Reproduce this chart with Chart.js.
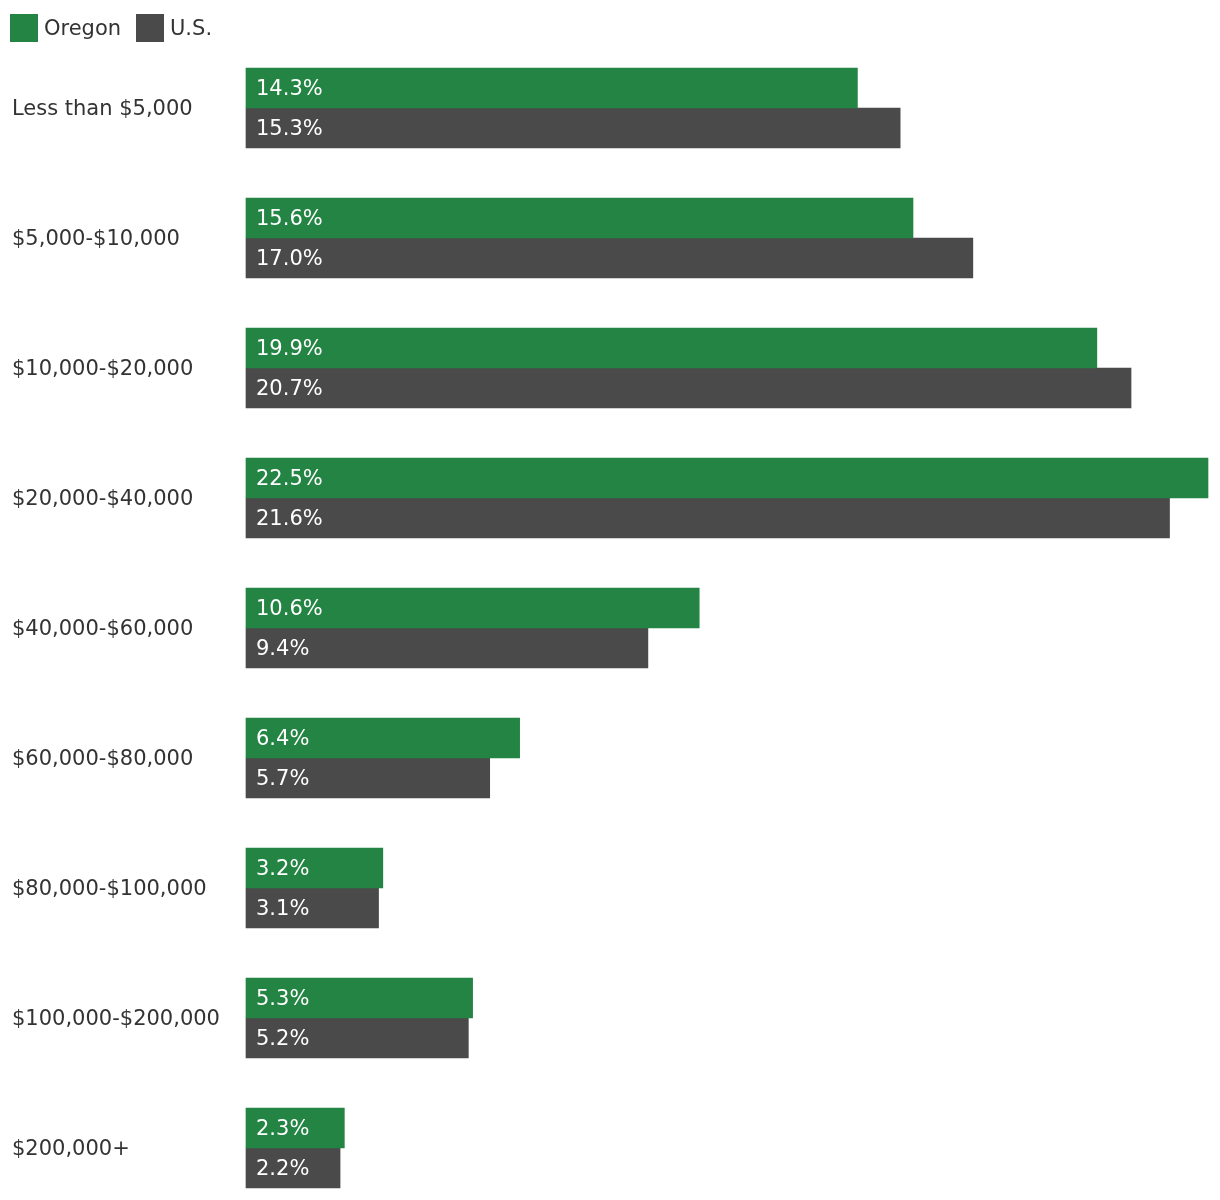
<!DOCTYPE html>
<html>
<head>
<meta charset="utf-8">
<script src="https://cdn.jsdelivr.net/npm/chart.js@4"></script>
<style>
  html, body { margin: 0; padding: 0; background: #fff; }
  #wrap { position: relative; width: 1220px; height: 1200px; }
  .sw { position: absolute; top: 14px; width: 28px; height: 28px; }
  .lt { position: absolute; top: 14px; height: 28px; line-height: 28px; font-family: "DejaVu Sans", sans-serif; font-size: 21px; color: #333; white-space: nowrap; }
  canvas { position: absolute; left: 0; top: 0; }
</style>
</head>
<body>
<div id="wrap">
  <canvas id="c" width="1220" height="1200"></canvas>
  <div id="legend"></div>
</div>
<script>
const categories = ["Less than $5,000", "$5,000-$10,000", "$10,000-$20,000", "$20,000-$40,000", "$40,000-$60,000", "$60,000-$80,000", "$80,000-$100,000", "$100,000-$200,000", "$200,000+"];
const oregon = [14.3, 15.6, 19.9, 22.5, 10.6, 6.4, 3.2, 5.3, 2.3];
const us = [15.3, 17.0, 20.7, 21.6, 9.4, 5.7, 3.1, 5.2, 2.2];
const seriesNames = ["Oregon", "U.S."];
const seriesColors = ["#238443", "#4a4a4a"];

const FONT = '"DejaVu Sans", sans-serif';
const legend = document.getElementById('legend');
const legendX = [10, 136];
seriesNames.forEach((n, i) => {
  const sw = document.createElement('div');
  sw.className = 'sw';
  sw.style.left = legendX[i] + 'px';
  sw.style.background = seriesColors[i];
  const t = document.createElement('div');
  t.className = 'lt';
  t.style.left = (legendX[i] + 34) + 'px';
  t.textContent = n;
  legend.appendChild(sw);
  legend.appendChild(t);
});

const valueLabels = {
  id: 'valueLabels',
  afterDatasetsDraw(chart) {
    const ctx = chart.ctx;
    ctx.save();
    ctx.font = '21px ' + FONT;
    ctx.fillStyle = '#ffffff';
    ctx.textAlign = 'left';
    ctx.textBaseline = 'middle';
    chart.data.datasets.forEach((ds, di) => {
      const meta = chart.getDatasetMeta(di);
      meta.data.forEach((bar, i) => {
        ctx.fillText(ds.data[i].toFixed(1) + '%', bar.base + 10, bar.y + 2);
      });
    });
    ctx.restore();
  }
};

new Chart(document.getElementById('c'), {
  type: 'bar',
  data: {
    labels: categories,
    datasets: [
      { label: seriesNames[0], data: oregon, backgroundColor: seriesColors[0], barThickness: 40, clip: false },
      { label: seriesNames[1], data: us, backgroundColor: seriesColors[1], barThickness: 40, clip: false }
    ]
  },
  options: {
    indexAxis: 'y',
    responsive: false,
    animation: false,
    devicePixelRatio: 1,
    layout: { padding: { top: 108, bottom: 52, left: 12, right: 12 } },
    plugins: { legend: { display: false }, tooltip: { enabled: false } },
    scales: {
      x: { display: false, min: 0, max: 22.5 },
      y: {
        offset: false,
        grid: { display: false },
        border: { display: false },
        ticks: { crossAlign: 'far', color: '#333', font: { family: FONT, size: 21 }, padding: 0, labelOffset: 2 },
        afterFit(scale) { scale.width = 234; }
      }
    }
  },
  plugins: [valueLabels]
});
</script>
</body>
</html>
